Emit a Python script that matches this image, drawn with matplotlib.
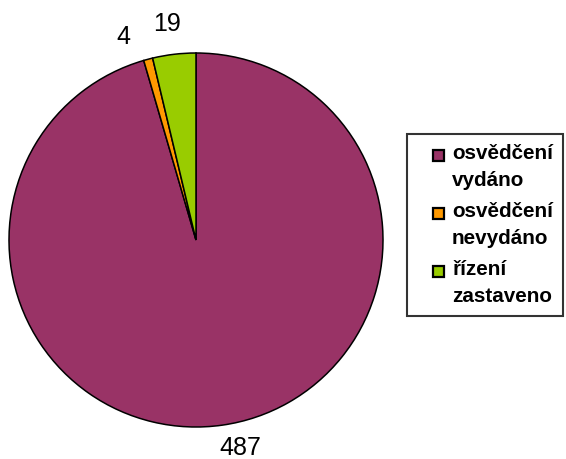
import numpy as np
import matplotlib.pyplot as plt
from matplotlib.patches import Rectangle
from matplotlib.legend_handler import HandlerPatch

plt.rcParams['font.family'] = ['Liberation Sans', 'DejaVu Sans']

names = ['osvědčení\nvydáno', 'osvědčení\nnevydáno', 'řízení\nzastaveno']
values = [487, 4, 19]
colors = ['#993366', '#FF9900', '#99CC00']

W, H = 566, 459
fig = plt.figure(figsize=(W / 100, H / 100), dpi=100)

# pie centre (196, 240) px, radius 187 px
cx, cy, r = 196, 240, 187
ax = fig.add_axes([(cx - r) / W, (H - cy - r) / H, 2 * r / W, 2 * r / H])
wedges, texts = ax.pie(values, labels=[str(v) for v in values], colors=colors,
                       startangle=90, counterclock=False, labeldistance=1.14,
                       wedgeprops=dict(edgecolor='black', linewidth=1.1),
                       textprops=dict(fontsize=18, ha='center', va='center'))
ax.set_xlim(-1, 1)
ax.set_ylim(-1, 1)

# nudge labels the way the original tool spread them (angle shift deg, distance)
nudge = [(3.9, 1.137), (4.8, 1.15), (1.0, 1.165)]
for w, t, (da, dist) in zip(wedges, texts, nudge):
    ang = np.deg2rad((w.theta1 + w.theta2) / 2 + da)
    t.set_position((dist * np.cos(ang), dist * np.sin(ang)))

sq = 7.9  # legend square size in points


def top_square(legend, orig_handle, xdescent, ydescent, width, height, fontsize):
    return Rectangle((-xdescent + width - sq, -ydescent + 9), sq, sq)


leg = fig.legend(wedges, names, loc='upper left',
                 bbox_to_anchor=(407 / W, 1 - 134 / H),
                 prop=dict(weight='bold', size=14.9),
                 frameon=True, fancybox=False, edgecolor='black',
                 handlelength=1.3, handleheight=0.53, handletextpad=0.38,
                 labelspacing=0.56, borderpad=0.49, borderaxespad=0,
                 handler_map={w: HandlerPatch(patch_func=top_square) for w in wedges})
leg.get_frame().set_linewidth(1.5)
for t in leg.get_texts():
    t.set_linespacing(1.55)
    t.set_multialignment('left')
for h in leg.legend_handles:
    h.set_edgecolor('black')
    h.set_linewidth(1.6)

fig.savefig('out.png', dpi=100)
